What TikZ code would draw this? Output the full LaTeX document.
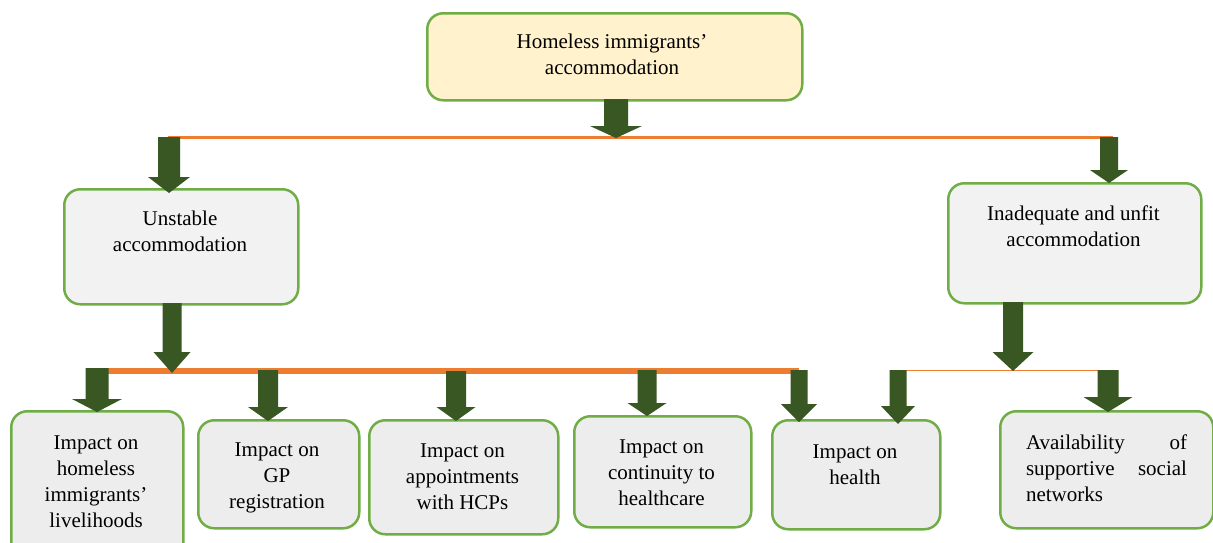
\documentclass[tikz,border=0pt]{standalone}
\usepackage{fontspec}
\setmainfont{Liberation Serif}
\usetikzlibrary{calc}

\definecolor{boxgreen}{HTML}{70AD47}
\definecolor{arrowgreen}{HTML}{385723}
\definecolor{linkorange}{HTML}{ED7D31}
\definecolor{paleyellow}{HTML}{FFF2CC}
\definecolor{palegrey}{HTML}{EDEDED}
\definecolor{lightgrey}{HTML}{F2F2F2}

\tikzset{
  card/.style={draw=boxgreen, line width=2.5pt, rounded corners=16pt,
    anchor=north west, inner sep=0pt, fill=palegrey},
  caption/.style={font=\fontsize{21}{26}\selectfont, align=center, inner sep=0pt,
    execute at begin node=\strut, execute at end node=\strut},
  bar/.style={draw=linkorange, line width=#1},
}

% vertical block arrow: #1 start, #2 tip, #3 shaft width, #4 head width, #5 head length
\newcommand\blockarrow[5]{%
  \fill[arrowgreen] let \p1=(#1), \p2=(#2) in
    ({\x1-#3*0.5pt},\y1) -- ({\x1-#3*0.5pt},{\y2+#5*1pt})
    -- ({\x1-#4*0.5pt},{\y2+#5*1pt}) -- (\x1,\y2)
    -- ({\x1+#4*0.5pt},{\y2+#5*1pt}) -- ({\x1+#3*0.5pt},{\y2+#5*1pt})
    -- ({\x1+#3*0.5pt},\y1) -- cycle;}

\begin{document}
\begin{tikzpicture}[x=1pt, y=-1pt]
  \useasboundingbox (0,0) rectangle (1213,542);
  \fill[white] (0,0) rectangle (1213,542);
  \clip (0,0) rectangle (1213,542);

  % boxes
  \node[card, fill=paleyellow, minimum width=375pt, minimum height=87pt] (top) at (426,12) {};
  \node[card, fill=lightgrey, minimum width=234pt, minimum height=115pt] (unstable) at (63,188) {};
  \node[card, fill=lightgrey, minimum width=253pt, minimum height=120pt] (unfit) at (947,182) {};
  \node[card, minimum width=172pt, minimum height=150pt] (live) at (10,410) {};
  \node[card, minimum width=161pt, minimum height=108pt] (gp) at (197,419) {};
  \node[card, minimum width=189pt, minimum height=114pt] (appt) at (368,419) {};
  \node[card, minimum width=177pt, minimum height=111pt] (cont) at (573,415) {};
  \node[card, minimum width=168pt, minimum height=109pt] (health) at (771,419) {};
  \node[card, minimum width=213pt, minimum height=117pt] (social) at (999,410) {};

  % texts
  \node[caption] (top-t) at (612,58) {Homeless immigrants’\\accommodation};
  \node[caption] (unstable-t) at (180,235) {Unstable\\accommodation};
  \node[caption] (unfit-t) at (1073.5,229.5) {Inadequate and unfit\\accommodation};
  \node[caption] (live-t) at (96,485.5) {Impact on\\homeless\\immigrants’\\livelihoods};
  \node[caption] (gp-t) at (277,479.5) {Impact on\\GP\\registration};
  \node[caption] (appt-t) at (462.5,480.5) {Impact on\\appointments\\with HCPs};
  \node[caption] (cont-t) at (661.5,476.5) {Impact on\\continuity to\\healthcare};
  \node[caption] (health-t) at (855,468.5) {Impact on\\health};
  \node[font=\fontsize{21}{26}\selectfont, text width=161pt, align=justify,
        inner sep=0pt] (social-t) at (1106.5,470.5)
        {\hyphenpenalty=10000\relax\tolerance=10000\relax
         \noindent\strut Availability of supportive social networks\strut};

  % branch lines
  \coordinate (tl-w) at (168,137.5);
  \coordinate (tl-e) at (1113,137.5);
  \coordinate (ml-w) at (107,371);
  \coordinate (ml-e) at (799,371);
  \coordinate (rl-w) at (897,370.5);
  \coordinate (rl-e) at (1110,370.5);
  \draw[bar=3.5pt] (tl-w) -- (tl-e);
  \draw[bar=5.5pt] (ml-w) -- (ml-e);
  \draw[bar=1.5pt] (rl-w) -- (rl-e);

  % arrow start points
  \coordinate (a0) at (616,99);
  \coordinate (a1) at (169,137);
  \coordinate (a2) at (1109,137);
  \coordinate (a3) at (172,303);
  \coordinate (a4) at (1013,302);
  \coordinate (b1) at (97,368);
  \coordinate (b2) at (268,370);
  \coordinate (b3) at (456,371);
  \coordinate (b4) at (647,370);
  \coordinate (b5) at (799,370);
  \coordinate (b6) at (898,370);
  \coordinate (b7) at (1108,370);

  % arrows
  \blockarrow{a0}{$(a0 |- tl-w)+(0,0.5)$}{24}{52}{12}
  \blockarrow{a1}{$(a1 |- unstable.north)+(0,5)$}{22}{42}{16}
  \blockarrow{a2}{$(a2 |- unfit.north)+(0,1)$}{18}{38}{13}
  \blockarrow{a3}{$(a3 |- ml-w)+(0,2)$}{19}{37}{21}
  \blockarrow{a4}{$(a4 |- rl-w)+(0,0.5)$}{20}{41}{19}
  \blockarrow{b1}{$(b1 |- live.north)+(0,2)$}{23}{50}{13}
  \blockarrow{b2}{$(b2 |- gp.north)+(0,2)$}{20}{40}{14}
  \blockarrow{b3}{$(b3 |- appt.north)+(0,2)$}{20}{39}{14}
  \blockarrow{b4}{$(b4 |- cont.north)+(0,1)$}{19}{39}{13}
  \blockarrow{b5}{$(b5 |- health.north)+(0,3)$}{17}{36}{18}
  \blockarrow{b6}{$(b6 |- health.north)+(0,5)$}{17}{34}{18}
  \blockarrow{b7}{$(b7 |- social.north)+(0,2)$}{21}{49}{15}
\end{tikzpicture}
\end{document}
